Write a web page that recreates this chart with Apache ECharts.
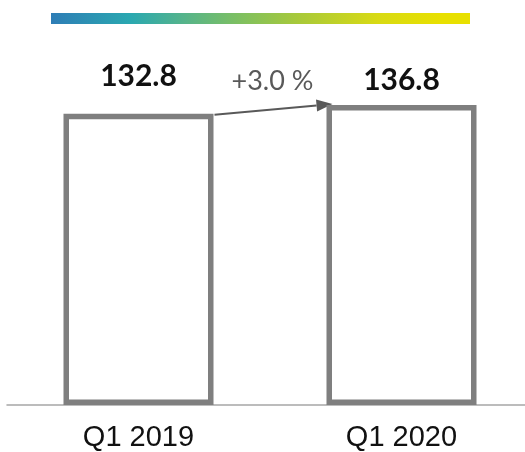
<!DOCTYPE html>
<html>
<head>
<meta charset="utf-8">
<script src="https://cdn.jsdelivr.net/npm/echarts@6/dist/echarts.min.js"></script>
<style>
  html, body { margin: 0; padding: 0; background: #fff; }
  #chart { width: 525px; height: 452px; }
</style>
</head>
<body>
<div id="chart"></div>
<script>
// Quarterly totals
const categories = ['Q1 2019', 'Q1 2020'];
const values = [132.8, 136.8];
// Extra gap between each bar top and its value label
const labelGaps = [22, 10];

const BAR_WIDTH = 150;
const chart = echarts.init(document.getElementById('chart'), null, { renderer: 'canvas' });

const grid = { left: 7, width: 526, top: 98, bottom: 47, outerBoundsMode: 'none', containLabel: false };

const option = {
  animation: false,
  grid: grid,
  xAxis: {
    type: 'category',
    data: categories,
    axisLine: { show: true, lineStyle: { color: '#a6a6a6', width: 1.5 } },
    axisTick: { show: false },
    axisLabel: {
      color: '#111',
      fontFamily: 'Liberation Sans, Arial, sans-serif',
      fontSize: 29,
      margin: 18
    }
  },
  yAxis: {
    type: 'value',
    min: 0,
    max: 140,
    show: false,
    splitLine: { show: false }
  },
  graphic: [{
    type: 'rect',
    shape: { x: 51, y: 13, width: 419, height: 11 },
    style: {
      fill: new echarts.graphic.LinearGradient(0, 0, 1, 0, [
        { offset: 0, color: '#2e7db6' },
        { offset: 0.19, color: '#2aa8b0' },
        { offset: 0.32, color: '#56b48a' },
        { offset: 0.44, color: '#7bbf64' },
        { offset: 0.59, color: '#a8c93a' },
        { offset: 0.78, color: '#d8da14' },
        { offset: 0.93, color: '#e8e000' },
        { offset: 1, color: '#e8e000' }
      ])
    }
  }],
  series: [{
    type: 'bar',
    barWidth: BAR_WIDTH,
    data: values.map((v, i) => ({
      value: v,
      label: { distance: labelGaps[i] }
    })),
    itemStyle: {
      color: '#ffffff',
      borderColor: '#7f7f7f',
      borderWidth: 5.5
    },
    label: {
      show: true,
      position: 'top',
      color: '#111',
      fontFamily: 'Lato, sans-serif',
      fontWeight: 'bold',
      fontSize: 30,
      formatter: p => p.value.toFixed(1)
    }
  }]
};
chart.setOption(option);

// Growth arrow between the two bar tops, placed from the axis scales
const p0 = chart.convertToPixel({ seriesIndex: 0 }, [0, values[0]]);
const p1 = chart.convertToPixel({ seriesIndex: 0 }, [1, values[1]]);
const x0 = p0[0] + BAR_WIDTH / 2 + 1;
const y0 = p0[1] + 1;
const x1 = p1[0] - BAR_WIDTH / 2 + 6;
const y1 = p1[1] - 1;
const ang = Math.atan2(y1 - y0, x1 - x0);
const headLen = 16, headHalf = 6;
const bx = x1 - headLen * Math.cos(ang), by = y1 - headLen * Math.sin(ang);
const nx = -Math.sin(ang) * headHalf, ny = Math.cos(ang) * headHalf;
const growth = (values[1] / values[0] - 1) * 100;

chart.setOption({
  graphic: [
    option.graphic[0],
    {
      type: 'line',
      shape: { x1: x0, y1: y0, x2: bx, y2: by },
      style: { stroke: '#595959', lineWidth: 2 }
    },
    {
      type: 'polygon',
      shape: { points: [[x1, y1], [bx + nx, by + ny], [bx - nx, by - ny]] },
      style: { fill: '#595959' }
    },
    {
      type: 'text',
      style: {
        text: (growth >= 0 ? '+' : '') + growth.toFixed(1) + ' %',
        x: (x0 + x1) / 2 - 1,
        y: y1 - 23,
        align: 'center',
        verticalAlign: 'middle',
        fill: '#595959',
        font: '27px Lato, sans-serif'
      }
    }
  ]
});
</script>
</body>
</html>
